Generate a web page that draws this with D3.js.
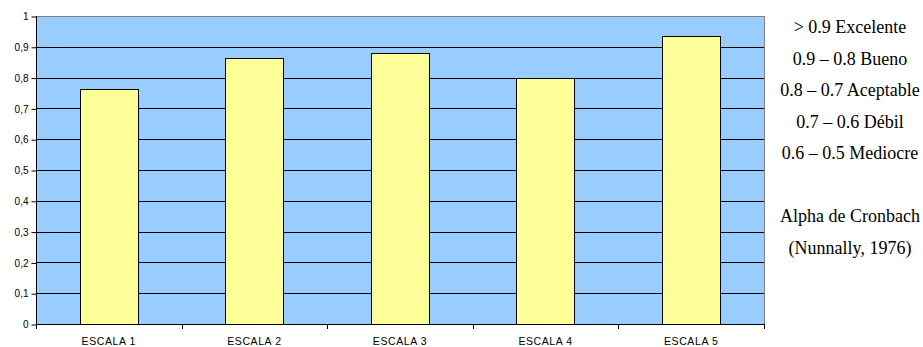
<!DOCTYPE html>
<html>
<head>
    <meta charset="UTF-8">
    <title>Alpha de Cronbach por escala</title>
    <script type="text/javascript" src="https://d3js.org/d3.v7.min.js"></script>
    <style>
        body { margin: 0; background: #fff; }
        svg { display: block; }
        .ytick text { font-family: "Liberation Sans", Arial, sans-serif; font-size: 10px; fill: #000; }
        .xtick text { font-family: "Liberation Sans", Arial, sans-serif; font-size: 10.5px; letter-spacing: 0.6px; fill: #000; }
        .legend text { font-family: "Liberation Serif", "Times New Roman", "DejaVu Serif", serif; font-size: 18px; fill: #000; }
    </style>
</head>
<body>
    <div id="chart"></div>
    <script>
        var categories = ["ESCALA 1", "ESCALA 2", "ESCALA 3", "ESCALA 4", "ESCALA 5"];
        var values = [0.762, 0.865, 0.879, 0.798, 0.936];
        var yTicks = [0, 0.1, 0.2, 0.3, 0.4, 0.5, 0.6, 0.7, 0.8, 0.9, 1];
        var legendLines = ["> 0.9 Excelente", "0.9 \u2013 0.8 Bueno", "0.8 \u2013 0.7 Aceptable", "0.7 \u2013 0.6 D\u00e9bil", "0.6 \u2013 0.5 Mediocre"];
        var sourceLines = ["Alpha de Cronbach", "(Nunnally, 1976)"];

        var width = 923, height = 347;
        var plot = {left: 36, right: 764, top: 16, bottom: 324};

        var svg = d3.select("#chart").append("svg")
            .attr("width", width).attr("height", height);

        var x = d3.scaleBand()
            .domain(categories)
            .range([plot.left, plot.right])
            .paddingInner(0.6).paddingOuter(0.3);

        var y = d3.scaleLinear()
            .domain([0, 1])
            .range([plot.bottom, plot.top]);

        // plot area
        svg.append("rect")
            .attr("x", plot.left + 0.5).attr("y", plot.top + 0.5)
            .attr("width", plot.right - plot.left).attr("height", plot.bottom - plot.top)
            .attr("fill", "#99ccff")
            .attr("stroke", "#808080");

        // gridlines
        svg.append("g").selectAll("line")
            .data(yTicks.filter(function (d) { return d > 0 && d < 1; }))
            .enter().append("line")
            .attr("x1", plot.left).attr("x2", plot.right)
            .attr("y1", function (d) { return Math.round(y(d)) + 0.5; })
            .attr("y2", function (d) { return Math.round(y(d)) + 0.5; })
            .attr("stroke", "#000").attr("stroke-width", 1);

        // bars
        svg.append("g").selectAll("rect")
            .data(values)
            .enter().append("rect")
            .attr("x", function (d, i) { return Math.round(x(categories[i])) + 0.5; })
            .attr("y", function (d) { return Math.round(y(d)) + 0.5; })
            .attr("width", Math.round(x.bandwidth()))
            .attr("height", function (d) { return Math.round(y(0)) - Math.round(y(d)); })
            .attr("fill", "#ffff99")
            .attr("stroke", "#000").attr("stroke-width", 1);

        // y axis
        var yAxis = d3.axisLeft(y)
            .tickValues(yTicks)
            .tickSize(5).tickPadding(3)
            .tickFormat(function (d) { return String(d).replace(".", ","); });
        var gy = svg.append("g")
            .attr("class", "ytick")
            .attr("transform", "translate(" + (plot.left + 0.5) + ",0.5)")
            .call(yAxis);
        gy.select(".domain").remove();
        gy.selectAll("line").attr("stroke", "#000");
        svg.append("line")
            .attr("x1", plot.left + 0.5).attr("x2", plot.left + 0.5)
            .attr("y1", plot.top).attr("y2", plot.bottom + 1)
            .attr("stroke", "#000");

        // x axis
        svg.append("line")
            .attr("x1", plot.left).attr("x2", plot.right + 1)
            .attr("y1", plot.bottom + 0.5).attr("y2", plot.bottom + 0.5)
            .attr("stroke", "#000");
        var boundaries = d3.range(categories.length + 1).map(function (i) { return plot.left + i * (plot.right - plot.left) / categories.length; });
        svg.append("g").selectAll("line")
            .data(boundaries)
            .enter().append("line")
            .attr("x1", function (d) { return Math.round(d) + 0.5; })
            .attr("x2", function (d) { return Math.round(d) + 0.5; })
            .attr("y1", plot.bottom).attr("y2", plot.bottom + 5)
            .attr("stroke", "#000");
        svg.append("g").attr("class", "xtick").selectAll("text")
            .data(categories)
            .enter().append("text")
            .attr("x", function (d) { return x(d) + x.bandwidth() / 2; })
            .attr("y", 345)
            .attr("text-anchor", "middle")
            .text(function (d) { return d; });

        // legend text at right
        var legend = svg.append("g").attr("class", "legend");
        legend.selectAll("text.scale")
            .data(legendLines)
            .enter().append("text")
            .attr("class", "scale")
            .attr("x", 850)
            .attr("y", function (d, i) { return 33 + i * 31.5; })
            .attr("text-anchor", "middle")
            .text(function (d) { return d; });
        legend.selectAll("text.src")
            .data(sourceLines)
            .enter().append("text")
            .attr("class", "src")
            .attr("x", 850)
            .attr("y", function (d, i) { return 222 + i * 31.5; })
            .attr("text-anchor", "middle")
            .text(function (d) { return d; });
    </script>
</body>
</html>
